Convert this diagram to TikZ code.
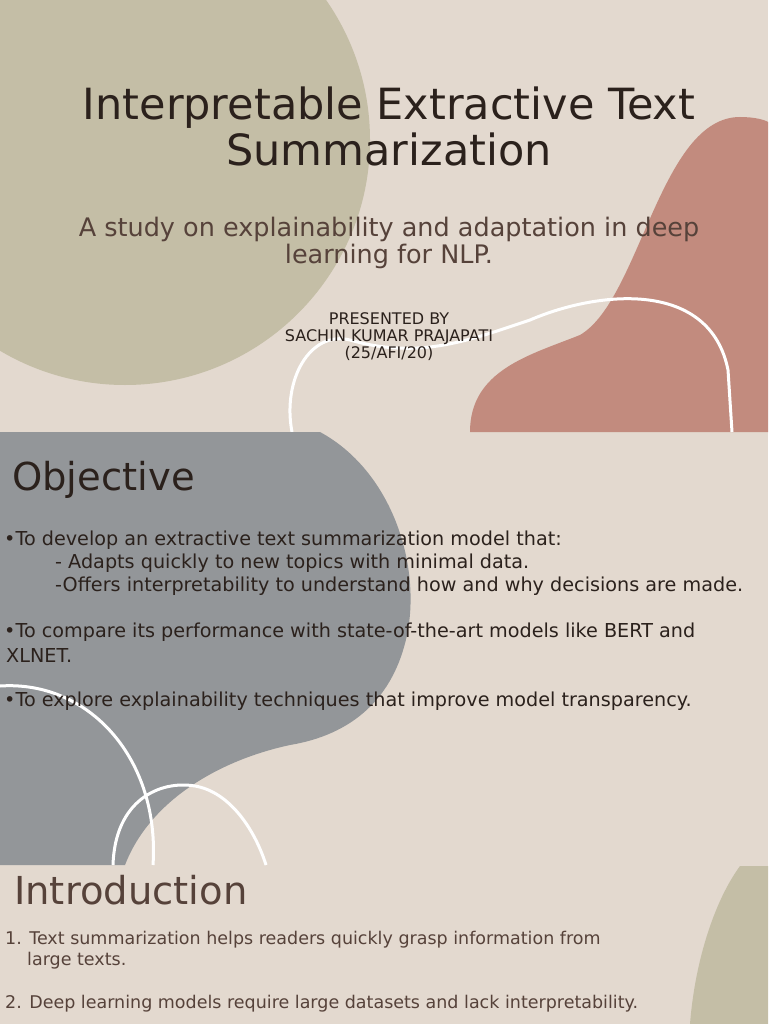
\documentclass[tikz,border=0pt]{standalone}
\usepackage{fontspec}
\setmainfont{DejaVu Sans}
\definecolor{bg}{HTML}{E3D9CF}
\definecolor{olive}{HTML}{C4BEA6}
\definecolor{pinkb}{HTML}{C28B7E}
\definecolor{greyb}{HTML}{939699}
\definecolor{dark}{HTML}{2B211C}
\definecolor{brown}{HTML}{56423A}
\begin{document}
\begin{tikzpicture}[x=1pt,y=-1pt,
  txt/.style={anchor=west,inner sep=0pt,text=dark,font=\fontsize{19.2}{22}\selectfont},
  itxt/.style={anchor=west,inner sep=0pt,text=brown,font=\fontsize{17.5}{21}\selectfont},
  wline/.style={draw=white,line width=3pt}]
\useasboundingbox (0,0) rectangle (768,1024);
\fill[bg] (0,0) rectangle (768,1024);
% slide 1
\begin{scope}
\clip (0,0) rectangle (768,432);
\fill[olive] (125,140) circle (245);
\fill[pinkb] (470,432) .. controls (470,370) and (530,355) .. (580,335) .. controls (640,300) and (660,117) .. (740,117) .. controls (755,117) and (765,120) .. (768,122) -- (768,432) -- cycle;
\draw[wline] (292,432) .. controls (282,380) and (310,330) .. (350,340) .. controls (420,360) and (470,340) .. (530,320) .. controls (600,290) and (710,280) .. (728,370) -- (732,432);
\end{scope}
\node[inner sep=0pt,text=dark,font=\fontsize{43}{46}\selectfont,align=center] (title) at (389,126) {Interpretable Extractive Text\\Summarization};
\node[inner sep=0pt,text=brown,font=\fontsize{25.5}{27}\selectfont,align=center] (sub) at (389,243) {A study on explainability and adaptation in deep\\learning for NLP.};
\node[inner sep=0pt,text=dark,font=\fontsize{16}{17}\selectfont,align=center] (pres) at (389,337) {PRESENTED BY\\SACHIN KUMAR PRAJAPATI\\(25/AFI/20)};
% slide 2
\begin{scope}
\clip (0,432) rectangle (768,865);
\fill[greyb] (0,432) -- (320,432) .. controls (390,470) and (420,560) .. (408,630) .. controls (395,700) and (350,735) .. (290,745) .. controls (220,760) and (150,800) .. (125,865) -- (0,865) -- cycle;
\draw[wline] (0,686) .. controls (90,680) and (160,760) .. (153,865);
\draw[wline] (113,865) .. controls (115,800) and (160,780) .. (195,786) .. controls (230,792) and (255,830) .. (266,865);
\end{scope}
\node[txt,font=\fontsize{38.5}{44}\selectfont] (obj) at (12,480) {Objective};
\node[txt] (b1) at (4,540) {•To develop an extractive text summarization model that:};
\node[txt] (b1a) at (55,563) {- Adapts quickly to new topics with minimal data.};
\node[txt] (b1b) at (55,586) {-Offers interpretability to understand how and why decisions are made.};
\node[txt] (b2) at (4,632) {•To compare its performance with state-of-the-art models like BERT and};
\node[txt] (b2b) at (6,655) {XLNET.};
\node[txt] (b3) at (4,701) {•To explore explainability techniques that improve model transparency.};
% slide 3
\fill[olive] (740,866) .. controls (715,900) and (695,960) .. (690,1024) -- (768,1024) -- (768,866) -- cycle;
\node[txt,text=brown,font=\fontsize{38.5}{44}\selectfont] (intro) at (14,890) {Introduction};
\node[itxt] (l1) at (5,940) {1. Text summarization helps readers quickly grasp information from};
\node[itxt] (l1b) at (27,961) {large texts.};
\node[itxt] (l2) at (5,1004) {2. Deep learning models require large datasets and lack interpretability.};
\end{tikzpicture}
\end{document}
